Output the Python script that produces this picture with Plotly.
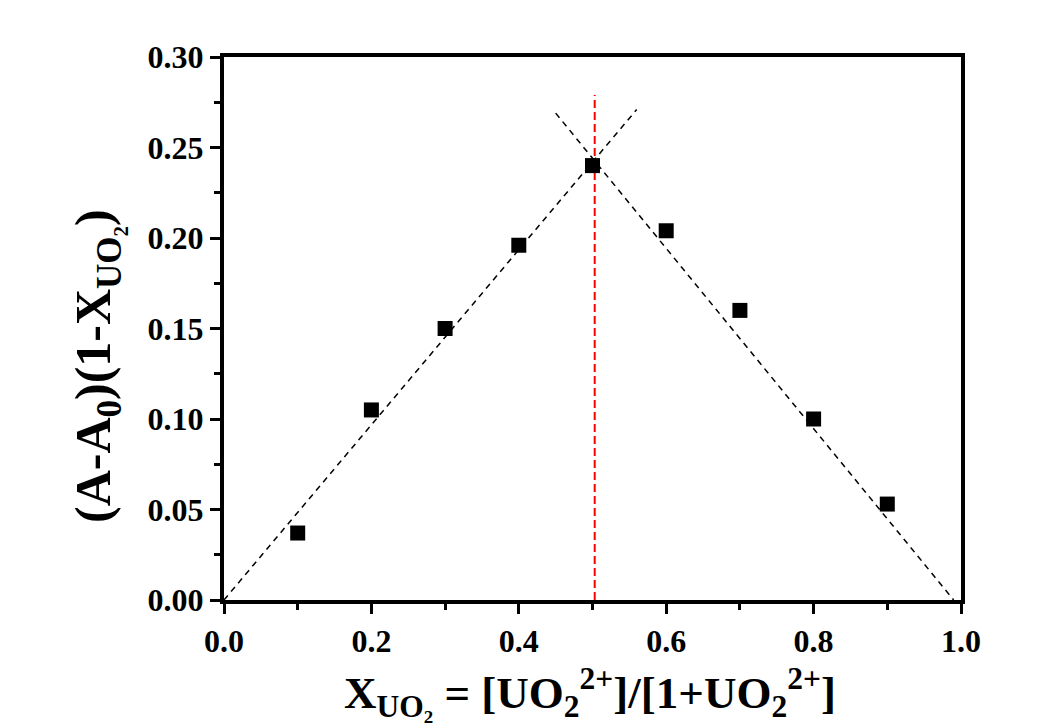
import plotly.graph_objects as go

# Data
x_points = [0.1, 0.2, 0.3, 0.4, 0.5, 0.6, 0.7, 0.8, 0.9]
y_points = [0.037, 0.105, 0.150, 0.196, 0.240, 0.204, 0.160, 0.100, 0.053]

left_fit_x = [0.0, 0.56]
left_fit_y = [0.0, 0.271]
right_fit_x = [0.45, 0.99]
right_fit_y = [0.269, 0.0]

vline_x = [0.503, 0.503]
vline_y = [0.0, 0.279]

x_ticks = [0.0, 0.2, 0.4, 0.6, 0.8, 1.0]
x_ticklabels = ["0.0", "0.2", "0.4", "0.6", "0.8", "1.0"]
y_ticks = [0.00, 0.05, 0.10, 0.15, 0.20, 0.25, 0.30]
y_ticklabels = ["0.00", "0.05", "0.10", "0.15", "0.20", "0.25", "0.30"]

x_title = "X<sub>UO₂</sub> = [UO<sub>2</sub><sup>2+</sup>]/[1+UO<sub>2</sub><sup>2+</sup>]"
y_title = "(A-A<sub>0</sub>)(1-X<sub>UO₂</sub>)"

FONT = "Liberation Serif"

fig = go.Figure()
fig.add_trace(go.Scatter(x=left_fit_x, y=left_fit_y, mode="lines",
                         line=dict(color="black", width=1.5, dash="6px,5px"),
                         showlegend=False, hoverinfo="skip"))
fig.add_trace(go.Scatter(x=right_fit_x, y=right_fit_y, mode="lines",
                         line=dict(color="black", width=1.5, dash="6px,5px"),
                         showlegend=False, hoverinfo="skip"))
fig.add_trace(go.Scatter(x=vline_x, y=vline_y, mode="lines",
                         line=dict(color="red", width=2, dash="8px,4px"),
                         showlegend=False, hoverinfo="skip"))
fig.add_trace(go.Scatter(x=x_points, y=y_points, mode="markers",
                         marker=dict(symbol="square", size=15, color="black"),
                         showlegend=False))

axis_common = dict(
    showgrid=False, zeroline=False,
    showline=True, linecolor="black", linewidth=4, mirror=True,
    ticks="outside", ticklen=10, tickwidth=3, tickcolor="black",
    tickfont=dict(family=FONT, size=32, color="black", weight="bold"),
)

fig.update_xaxes(
    range=[0, 1.0], tickvals=x_ticks, ticktext=x_ticklabels,
    minor=dict(dtick=0.1, tick0=0, ticks="outside", ticklen=6, tickwidth=3, tickcolor="black"),
    **axis_common,
)
fig.update_yaxes(
    range=[0, 0.30], tickvals=y_ticks, ticktext=y_ticklabels,
    minor=dict(dtick=0.025, tick0=0, ticks="outside", ticklen=6, tickwidth=3, tickcolor="black"),
    **axis_common,
)

# Axis titles as annotations for precise placement
fig.add_annotation(text=x_title, xref="paper", yref="paper",
                   x=(590 - 224) / 737, y=-(659 - 600) / 543,
                   xanchor="center", yanchor="top", showarrow=False,
                   font=dict(family=FONT, size=45, color="black", weight="bold"))
fig.add_annotation(text=y_title, xref="paper", yref="paper",
                   x=(97 - 224) / 737, y=(600 - 366) / 543,
                   xanchor="center", yanchor="middle", textangle=-90, showarrow=False,
                   font=dict(family=FONT, size=50, color="black", weight="bold"))

fig.update_layout(
    width=1060, height=727,
    margin=dict(l=224, r=99, t=57, b=127, autoexpand=False),
    paper_bgcolor="white", plot_bgcolor="white",
    font=dict(family=FONT, color="black"),
)

fig.write_html("out.html")
